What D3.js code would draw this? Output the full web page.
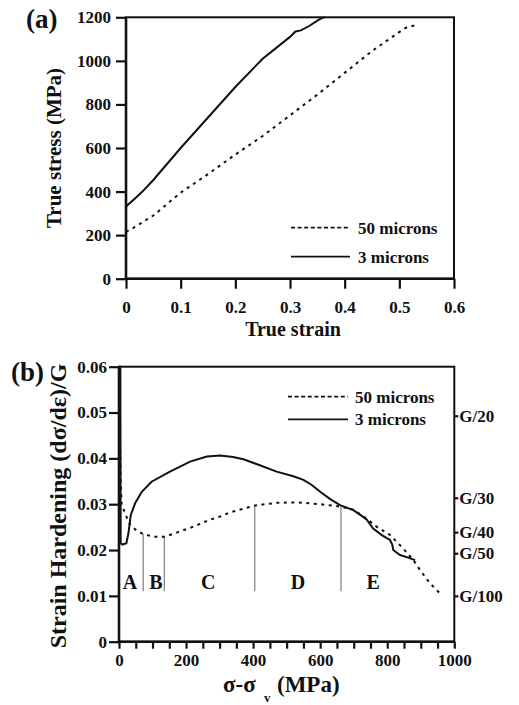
<!DOCTYPE html>
<html>
<head>
<meta charset="utf-8">
<script src="https://cdn.jsdelivr.net/npm/d3@7"></script>
<style>
body { margin: 0; background: #fff; }
#chart text { font-family: "Liberation Serif", "Times New Roman", Times, "DejaVu Serif", serif !important; font-weight: 700; fill: #111; }
</style>
</head>
<body>
<svg id="chart" width="519" height="705"></svg>
<script>
// panel (a): true stress vs true strain
const strain50 = [0, 0.01, 0.05, 0.1, 0.15, 0.2, 0.25, 0.3, 0.35, 0.4, 0.45, 0.49, 0.51, 0.535];
const stress50 = [215, 228, 290, 395, 480, 570, 655, 750, 845, 945, 1045, 1115, 1150, 1168];
const strain3 = [0, 0, 0.003, 0.015, 0.03, 0.05, 0.1, 0.15, 0.2, 0.25, 0.28, 0.3, 0.31, 0.32, 0.335, 0.35, 0.36, 0.363];
const stress3 = [0, 330, 338, 365, 400, 453, 600, 740, 880, 1010, 1070, 1110, 1135, 1140, 1160, 1185, 1198, 1200];

// panel (b): strain hardening vs sigma - sigma_y
const sig50 = [2, 3, 5, 8, 18, 33, 53, 72, 102, 137, 172, 222, 271, 301, 331, 370, 405, 470, 530, 600, 659, 699, 739, 768, 808, 843, 878, 898, 928, 962];
const hard50 = [0.06, 0.045, 0.035, 0.030, 0.028, 0.0255, 0.0242, 0.0235, 0.0229, 0.0229, 0.0238, 0.0251, 0.0266, 0.0273, 0.0282, 0.029, 0.0297, 0.0303, 0.0304, 0.0300, 0.0295, 0.0288, 0.0268, 0.0251, 0.0233, 0.0207, 0.0178, 0.0156, 0.0127, 0.0102];
const sig3 = [1, 2, 4, 5, 10, 22, 28, 35, 48, 68, 97, 152, 212, 262, 301, 340, 371, 420, 470, 520, 550, 575, 600, 630, 659, 699, 725, 739, 758, 785, 808, 815, 818, 838, 860, 883];
const hard3 = [0.0215, 0.06, 0.06, 0.0215, 0.0212, 0.0215, 0.0236, 0.0276, 0.0302, 0.0327, 0.0349, 0.0371, 0.0393, 0.0404, 0.0406, 0.0403, 0.0398, 0.0385, 0.0371, 0.0361, 0.0353, 0.0342, 0.0327, 0.0311, 0.0298, 0.0287, 0.0274, 0.0266, 0.0247, 0.0232, 0.0222, 0.0212, 0.0200, 0.0189, 0.0184, 0.0178];

const stageBounds = [72, 135, 405, 662];
const stageTops = [0.0235, 0.0229, 0.0297, 0.0295];
const stageNames = ["A", "B", "C", "D", "E"];
const stageAt = [33, 110, 266, 534, 758];

const gLabels = ["G/20", "G/30", "G/40", "G/50", "G/100"];
const gValues = [0.0493, 0.0314, 0.0239, 0.0193, 0.0100];

const seriesNames = ["50 microns", "3 microns"];

const svg = d3.select("#chart");
const FONT = "'Liberation Serif', 'Times New Roman', Times, 'DejaVu Serif', serif";
svg.attr("font-family", FONT).attr("font-weight", "bold");
const DASH_CURVE = "3,4.5";
const DASH_LEGEND = "4,2.6";

function styleAxis(ax, fontSize) {
    ax.attr("font-family", FONT).attr("font-size", null);
    ax.select(".domain").remove();
    ax.selectAll(".tick line").attr("stroke", "#111").attr("stroke-width", 2.2);
    ax.selectAll(".tick text").style("font-size", fontSize + "px");
}

function legend(g, x0, x1, y0, y1, tx) {
    g.append("line").attr("x1", x0).attr("x2", x1).attr("y1", y0).attr("y2", y0)
        .attr("stroke", "#111").attr("stroke-width", 1.8).attr("stroke-dasharray", DASH_LEGEND);
    g.append("line").attr("x1", x0).attr("x2", x1).attr("y1", y1).attr("y2", y1)
        .attr("stroke", "#111").attr("stroke-width", 1.8);
    g.append("text").attr("x", tx).attr("y", y0 + 6).style("font-size", "17px").text(seriesNames[0]);
    g.append("text").attr("x", tx).attr("y", y1 + 6).style("font-size", "17px").text(seriesNames[1]);
}

// ---------- panel (a) ----------
const a = {left: 126, top: 17.3, width: 328, height: 261.4};
const ga = svg.append("g").attr("transform", `translate(${a.left},${a.top})`);
const xa = d3.scaleLinear().domain([0, 0.6]).range([0, a.width]);
const ya = d3.scaleLinear().domain([0, 1200]).range([a.height, 0]);

const xAxisA = ga.append("g").attr("transform", `translate(0,${a.height})`)
    .call(d3.axisBottom(xa).tickValues(d3.range(0, 0.61, 0.1)).tickSize(10).tickPadding(12)
        .tickFormat(d => d === 0 ? "0" : d3.format(".1f")(d)));
styleAxis(xAxisA, 17);
const yAxisA = ga.append("g")
    .call(d3.axisLeft(ya).tickValues(d3.range(0, 1201, 200)).tickSize(10).tickPadding(5)
        .tickFormat(d3.format("d")));
styleAxis(yAxisA, 17);

ga.append("rect").attr("width", a.width).attr("height", a.height)
    .attr("fill", "none").attr("stroke", "#111").attr("stroke-width", 2);
ga.append("line").attr("y2", a.height).attr("stroke", "#111").attr("stroke-width", 2.6);
ga.append("line").attr("y1", a.height).attr("y2", a.height).attr("x2", a.width).attr("stroke", "#111").attr("stroke-width", 2.6);

const lineA = d3.line().x(d => xa(d[0])).y(d => ya(d[1]));
ga.append("path").datum(d3.zip(strain50, stress50)).attr("d", lineA)
    .attr("fill", "none").attr("stroke", "#111").attr("stroke-width", 2).attr("stroke-dasharray", DASH_CURVE);
ga.append("path").datum(d3.zip(strain3, stress3)).attr("d", lineA)
    .attr("fill", "none").attr("stroke", "#111").attr("stroke-width", 2);

legend(svg.append("g"), 291, 350, 227.7, 256.7, 358);

svg.append("text").attr("x", 26).attr("y", 28).style("font-size", "27px").text("(a)");
svg.append("text").attr("transform", "translate(61,148) rotate(-90)").attr("text-anchor", "middle")
    .style("font-size", "21px").text("True stress (MPa)");
svg.append("text").attr("x", 293).attr("y", 336).attr("text-anchor", "middle")
    .style("font-size", "20px").text("True strain");

// ---------- panel (b) ----------
const b = {left: 119, top: 366.7, width: 335.3, height: 275};
const gb = svg.append("g").attr("transform", `translate(${b.left},${b.top})`);
const xb = d3.scaleLinear().domain([0, 1000]).range([0, b.width]);
const yb = d3.scaleLinear().domain([0, 0.06]).range([b.height, 0]);

const xAxisB = gb.append("g").attr("transform", `translate(0,${b.height})`)
    .call(d3.axisBottom(xb).tickValues(d3.range(0, 1001, 50)).tickSize(7).tickPadding(5)
        .tickFormat(d => d % 200 === 0 ? d : ""));
styleAxis(xAxisB, 17);
const yAxisB = gb.append("g")
    .call(d3.axisLeft(yb).tickValues(d3.range(0, 0.0601, 0.01)).tickSize(10).tickPadding(2)
        .tickFormat(d => d === 0 ? "0" : d3.format(".2f")(d)));
styleAxis(yAxisB, 17);
const gAxisB = gb.append("g").attr("transform", `translate(${b.width},0)`)
    .call(d3.axisRight(yb).tickValues(gValues).tickSize(4).tickPadding(1)
        .tickFormat((d, i) => gLabels[i]));
styleAxis(gAxisB, 17);

gb.append("rect").attr("width", b.width).attr("height", b.height)
    .attr("fill", "none").attr("stroke", "#111").attr("stroke-width", 2);
gb.append("line").attr("y2", b.height).attr("stroke", "#111").attr("stroke-width", 2.6);
gb.append("line").attr("y1", b.height).attr("y2", b.height).attr("x2", b.width).attr("stroke", "#111").attr("stroke-width", 2.6);

// stage boundaries
gb.selectAll(".stage").data(stageBounds).enter().append("line").attr("class", "stage")
    .attr("x1", d => xb(d)).attr("x2", d => xb(d))
    .attr("y1", (d, i) => yb(stageTops[i])).attr("y2", yb(0.011))
    .attr("stroke", "#666").attr("stroke-width", 1);
gb.selectAll(".stageName").data(stageNames).enter().append("text").attr("class", "stageName")
    .attr("x", (d, i) => xb(stageAt[i])).attr("y", yb(0.013)).attr("dy", "0.35em")
    .attr("text-anchor", "middle").style("font-size", "20px").text(d => d);

const lineB = d3.line().x(d => xb(d[0])).y(d => yb(d[1]));
gb.append("path").datum(d3.zip(sig50, hard50)).attr("d", lineB)
    .attr("fill", "none").attr("stroke", "#111").attr("stroke-width", 2).attr("stroke-dasharray", DASH_CURVE);
gb.append("path").datum(d3.zip(sig3, hard3)).attr("d", lineB)
    .attr("fill", "none").attr("stroke", "#111").attr("stroke-width", 2);

legend(svg.append("g"), 288, 348, 396.7, 419.3, 355);

svg.append("text").attr("x", 11).attr("y", 381).style("font-size", "27px").text("(b)");
svg.append("text").attr("transform", "translate(66,506) rotate(-90)").attr("text-anchor", "middle")
    .style("font-size", "24px").text("Strain Hardening (dσ/dε)/G");
const xt = svg.append("text").attr("y", 692).style("font-size", "23px");
xt.append("tspan").attr("x", 223).text("σ-σ");
xt.append("tspan").attr("x", 264).attr("y", 702).style("font-size", "13px").text("v");
xt.append("tspan").attr("x", 277).attr("y", 692).text("(MPa)");
</script>
</body>
</html>
